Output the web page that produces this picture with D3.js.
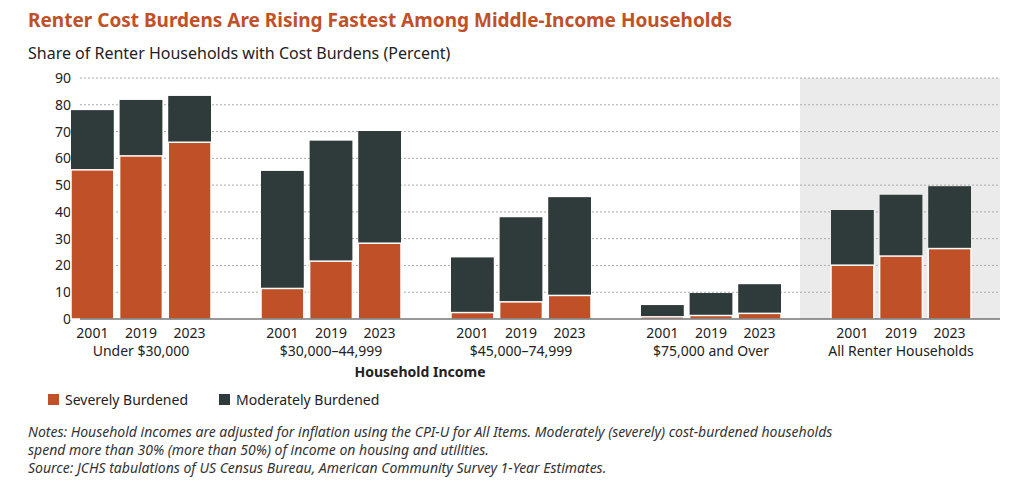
<!DOCTYPE html>
<html>
<head>
<meta charset="utf-8">
<script src="https://cdn.jsdelivr.net/npm/d3@7"></script>
<style>
  body { margin: 0; background: #fff; font-family: "Noto Sans", sans-serif; }
</style>
</head>
<body>
<svg id="chart" width="1024" height="491"></svg>
<script>
const data = [
  { group: 'Under $30,000', bars: [
    { year: '2001', severe: 55.7, total: 78 },
    { year: '2019', severe: 60.9, total: 81.8 },
    { year: '2023', severe: 66, total: 83.3 } ] },
  { group: '$30,000\u201344,999', bars: [
    { year: '2001', severe: 11.4, total: 55.3 },
    { year: '2019', severe: 21.6, total: 66.6 },
    { year: '2023', severe: 28.3, total: 70.2 } ] },
  { group: '$45,000\u201374,999', bars: [
    { year: '2001', severe: 2.4, total: 23 },
    { year: '2019', severe: 6.4, total: 38 },
    { year: '2023', severe: 8.8, total: 45.5 } ] },
  { group: '$75,000 and Over', bars: [
    { year: '2001', severe: 0.8, total: 5.2 },
    { year: '2019', severe: 1.3, total: 9.7 },
    { year: '2023', severe: 2.1, total: 13 } ] },
  { group: 'All Renter Households', bars: [
    { year: '2001', severe: 20.1, total: 40.7 },
    { year: '2019', severe: 23.5, total: 46.4 },
    { year: '2023', severe: 26.3, total: 49.6 } ] }
];

const severeColor = '#bf5028';
const moderateColor = '#2f3a3a';
const svg = d3.select('#chart');

const x = d3.scaleBand().domain(data.map(d => d.group)).range([46, 996]);
const xi = d3.scaleBand().domain(['2001', '2019', '2023']).range([25, 165]).paddingInner(0.12);
const y = d3.scaleLinear().domain([0, 90]).range([319, 78]);

// shaded "all renter" region
svg.append('rect')
  .attr('x', x('All Renter Households') - 6).attr('y', y(90))
  .attr('width', 1000 - x('All Renter Households') + 6).attr('height', y(0) - y(90))
  .attr('fill', '#ebebeb');

// gridlines
svg.append('g').selectAll('line').data(d3.range(10, 91, 10)).join('line')
  .attr('x1', 80).attr('x2', 1000)
  .attr('y1', d => y(d)).attr('y2', d => y(d))
  .attr('stroke', '#aaa').attr('stroke-dasharray', '2,2');

// y axis labels
svg.append('g')
  .attr('transform', 'translate(74,0)')
  .call(d3.axisLeft(y).tickValues(d3.range(0, 91, 10)).tickSize(0))
  .call(g => g.select('.domain').remove())
  .selectAll('text').attr('font-size', 14).attr('fill', '#222')
  .attr('font-family', '"Noto Sans", sans-serif');

// bars
const groups = svg.append('g').selectAll('g').data(data).join('g')
  .attr('transform', d => `translate(${x(d.group)},0)`);

groups.selectAll('rect.mod').data(d => d.bars).join('rect')
  .attr('class', 'mod')
  .attr('x', d => xi(d.year)).attr('width', xi.bandwidth())
  .attr('y', d => y(d.total)).attr('height', d => y(d.severe) - y(d.total))
  .attr('fill', moderateColor);

groups.selectAll('rect.sev').data(d => d.bars).join('rect')
  .attr('class', 'sev')
  .attr('x', d => xi(d.year)).attr('width', xi.bandwidth())
  .attr('y', d => y(d.severe)).attr('height', d => y(0) - y(d.severe))
  .attr('fill', severeColor).attr('stroke', '#fff').attr('stroke-width', 1.5);

// baseline
svg.append('line').attr('x1', 80).attr('x2', 1000)
  .attr('y1', y(0)).attr('y2', y(0)).attr('stroke', '#333').attr('stroke-width', 1.2);

// year labels and group labels
groups.selectAll('text.yr').data(d => d.bars).join('text')
  .attr('x', d => xi(d.year) + xi.bandwidth() / 2).attr('y', 338)
  .attr('text-anchor', 'middle').attr('font-size', 14).attr('fill', '#222')
  .text(d => d.year);

groups.append('text')
  .attr('x', x.bandwidth() / 2).attr('y', 356)
  .attr('text-anchor', 'middle').attr('font-size', 14).attr('fill', '#222')
  .text(d => d.group);

svg.append('text').attr('x', 420).attr('y', 377).attr('text-anchor', 'middle')
  .attr('font-size', 14).attr('font-weight', 'bold').attr('fill', '#222')
  .text('Household Income');

// titles
svg.append('text').attr('x', 28).attr('y', 27)
  .attr('font-size', 19).attr('font-weight', 'bold').attr('fill', severeColor)
  .text('Renter Cost Burdens Are Rising Fastest Among Middle-Income Households');
svg.append('text').attr('x', 28).attr('y', 59)
  .attr('font-size', 16).attr('fill', '#222')
  .text('Share of Renter Households with Cost Burdens (Percent)');

// legend
const legend = [
  { label: 'Severely Burdened', color: severeColor, x: 48 },
  { label: 'Moderately Burdened', color: moderateColor, x: 219 }
];
const lg = svg.append('g').selectAll('g').data(legend).join('g')
  .attr('transform', d => `translate(${d.x},394)`);
lg.append('rect').attr('width', 11).attr('height', 11).attr('fill', d => d.color);
lg.append('text').attr('x', 17).attr('y', 11).attr('font-size', 14).attr('fill', '#222')
  .text(d => d.label);

// notes
const notes = svg.append('text').attr('font-size', 14).attr('font-style', 'italic').attr('fill', '#333');
notes.append('tspan').attr('x', 28).attr('y', 437)
  .text('Notes: Household incomes are adjusted for inflation using the CPI-U for All Items. Moderately (severely) cost-burdened households');
notes.append('tspan').attr('x', 28).attr('y', 455)
  .text('spend more than 30% (more than 50%) of income on housing and utilities.');
notes.append('tspan').attr('x', 28).attr('y', 473)
  .text('Source: JCHS tabulations of US Census Bureau, American Community Survey 1-Year Estimates.');
</script>
</body>
</html>
